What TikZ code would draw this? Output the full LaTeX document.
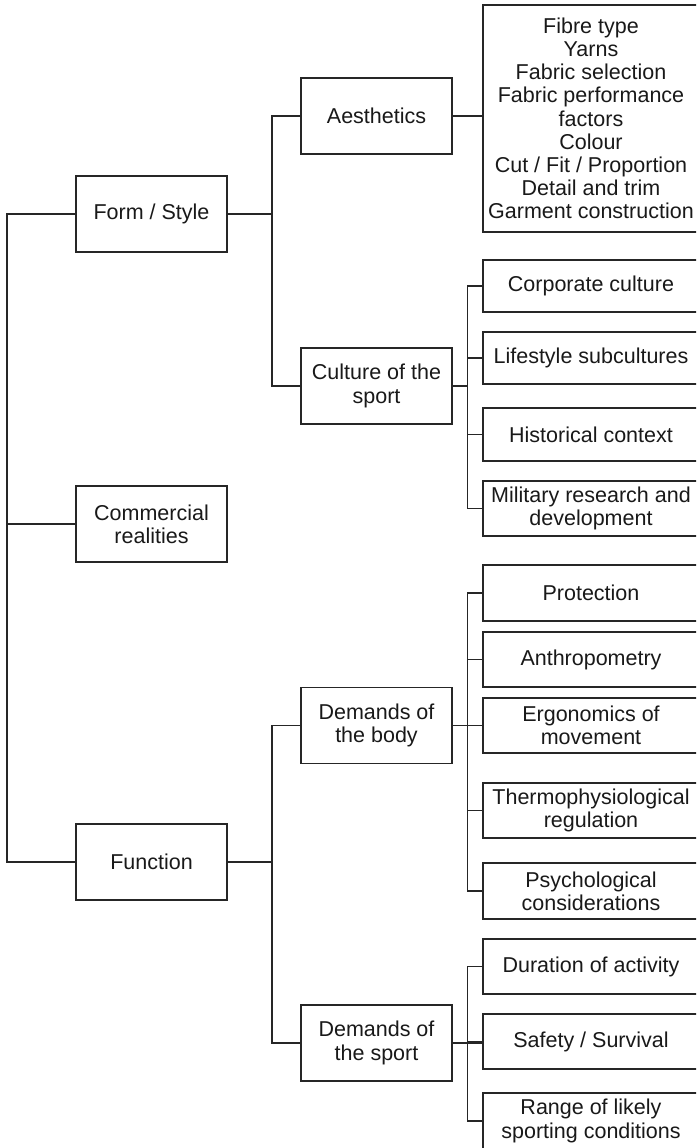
\documentclass[tikz,border=0pt]{standalone}
\usepackage{fontspec}
\setmainfont{Liberation Sans}
\begin{document}
\begin{tikzpicture}[x=1pt,y=-1pt,
  box/.style={draw=black!85, line width=1.2pt, inner sep=0pt, align=center,
    text=black!90, font=\fontsize{21.5}{23.2}\selectfont},
  midbox/.style={box, minimum width=151pt, minimum height=76pt},
  leafbox/.style={box, minimum width=216pt, minimum height=54pt},
  link/.style={draw=black!85, line width=1.2pt}]
\useasboundingbox (0,0) rectangle (696,1148);
\clip (0,0) rectangle (696,1148);
\fill[white] (0,0) rectangle (696,1148);

% level 1
\node[midbox] (form) at (151.5,214) {Form / Style};
\node[midbox] (comm) at (151.5,524) {Commercial\\realities};
\node[midbox] (func) at (151.5,862) {Function};

% level 2
\node[midbox] (aest) at (376.5,116) {Aesthetics};
\node[midbox] (cult) at (376.5,386) {Culture of the\\sport};
\node[midbox] (body) at (376.5,725.5) {Demands of\\the body};
\node[midbox] (sport) at (376.5,1043) {Demands of\\the sport};

% level 3
\node[box, minimum width=216pt, minimum height=227pt] (fibre) at (591,118.5)
  {Fibre type\\Yarns\\Fabric selection\\Fabric performance\\factors\\Colour\\Cut / Fit / Proportion\\Detail and trim\\Garment construction};
\node[leafbox, minimum height=52pt] (corp) at (591,286) {Corporate culture};
\node[leafbox, minimum height=52pt] (life) at (591,358) {Lifestyle subcultures};
\node[leafbox, minimum height=53pt] (hist) at (591,434.5) {Historical context};
\node[leafbox, minimum height=55pt] (mil) at (591,508.5) {Military research and\\development};
\node[leafbox, minimum height=56pt] (prot) at (591,593) {Protection};
\node[leafbox, minimum height=55pt] (anth) at (591,659.5) {Anthropometry};
\node[leafbox, minimum height=55pt] (ergo) at (591,725.5) {Ergonomics of\\movement};
\node[leafbox, minimum height=55pt] (therm) at (591,810.5) {Thermophysiological\\regulation};
\node[leafbox, minimum height=56pt] (psych) at (591,891) {Psychological\\considerations};
\node[leafbox, minimum height=55pt] (dur) at (591,966.5) {Duration of activity};
\node[leafbox, minimum height=55pt] (safe) at (591,1041.5) {Safety / Survival};
\node[leafbox, minimum height=56pt] (range) at (591,1121) {Range of likely\\sporting conditions};

% bus coordinates
\coordinate (root) at (7,0);
\coordinate (b2) at (272,0);
\coordinate (b3) at (467.5,0);

% root connections
\draw[link] (form.west) -| (root |- func.west) -- (func.west);
\draw[link] (comm.west) -- (comm.west -| root);

% form / style
\draw[link] (form.east) -- (form.east -| b2);
\draw[link] (aest.west) -| (b2 |- cult.west) -- (cult.west);
\draw[link] (aest.east) -- (fibre.west |- aest.east);

% culture of the sport
\draw[link] (cult.east) -- (cult.east -| b3);
\draw[link] (corp.west) -| (b3 |- mil.west) -- (mil.west);
\draw[link] (life.west) -- (life.west -| b3);
\draw[link] (hist.west) -- (hist.west -| b3);

% function
\draw[link] (func.east) -- (func.east -| b2);
\draw[link] (body.west) -| (b2 |- sport.west) -- (sport.west);

% demands of the body
\draw[link] (body.east) -- (ergo.west);
\draw[link] (prot.west) -| (b3 |- psych.west) -- (psych.west);
\draw[link] (anth.west) -- (anth.west -| b3);
\draw[link] (therm.west) -- (therm.west -| b3);

% demands of the sport
\draw[link] (sport.east) -- (sport.east -| safe.west);
\draw[link] (dur.west) -| (b3 |- range.west) -- (range.west);
\draw[link] (safe.west) -- (safe.west -| b3);
\end{tikzpicture}
\end{document}
